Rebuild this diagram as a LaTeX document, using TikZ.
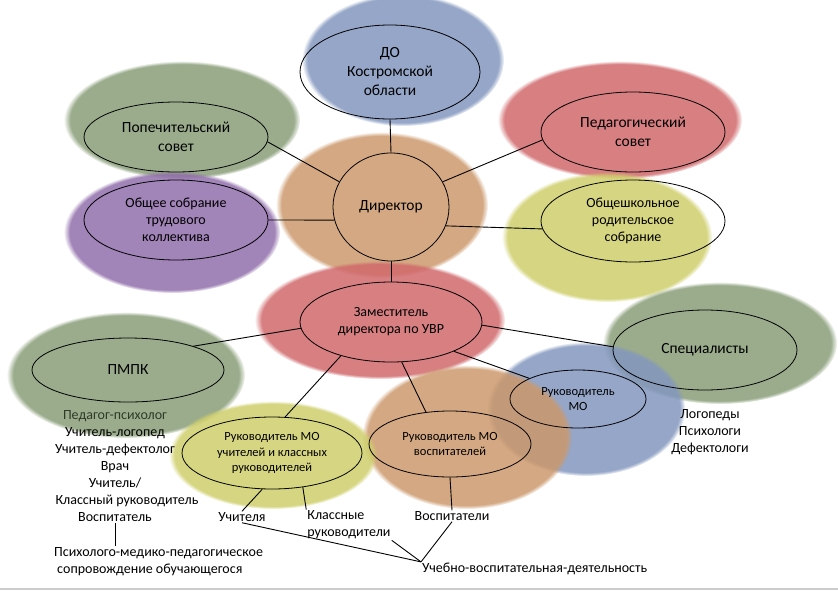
\documentclass[tikz,border=0pt]{standalone}
\usepackage{fontspec}
\setmainfont{Carlito}
\usetikzlibrary{shapes.geometric,fadings}
\pgfdeclareradialshading{softedgeshade}{\pgfpointorigin}{color(0bp)=(pgftransparent!0); color(23.6bp)=(pgftransparent!0); color(25bp)=(pgftransparent!100); color(50bp)=(pgftransparent!100)}
\pgfdeclarefading{softedge}{\pgfuseshading{softedgeshade}}
\definecolor{cblue}{RGB}{131,151,190}
\definecolor{corange}{RGB}{204,153,108}
\definecolor{cred}{RGB}{209,105,108}
\definecolor{cgreen}{RGB}{137,158,120}
\definecolor{cpurple}{RGB}{145,110,171}
\definecolor{cyellow}{RGB}{207,207,108}
\definecolor{cdkgreen}{RGB}{45,58,40}
\newcommand{\fbig}{\fontsize{15.5}{19}\selectfont}
\newcommand{\fmid}{\fontsize{14}{17}\selectfont}
\newcommand{\fsml}{\fontsize{12.5}{15.5}\selectfont}
\begin{document}
\begin{tikzpicture}[x=1pt,y=-1pt,
  blob/.style={fill=#1, fill opacity=0.85, draw=none, path fading=softedge},
  oval/.style={draw=black, line width=0.8pt, ellipse, inner sep=0pt, align=center},
  lbl/.style={inner sep=1pt, align=center, font=\fmid},
  conn/.style={draw=black, line width=0.9pt}]
\useasboundingbox (0,0) rectangle (838,592);
% coloured blobs
\fill[blob=cblue] (403,60) ellipse [x radius=101, y radius=66];
\fill[blob=cgreen] (182,120) ellipse [x radius=118, y radius=59];
\fill[blob=cred] (620,120) ellipse [x radius=122, y radius=59];
\fill[blob=corange] (382,205) ellipse [x radius=106, y radius=73];
\fill[blob=cpurple] (172,232) ellipse [x radius=108, y radius=61];
\fill[blob=cyellow] (607,237) ellipse [x radius=105, y radius=65];
\fill[blob=cred] (380,320) ellipse [x radius=125, y radius=59];
\fill[blob=cgreen] (126,375) ellipse [x radius=119, y radius=63];
\fill[blob=cgreen] (720,343) ellipse [x radius=117, y radius=61];
\fill[blob=cblue] (586,409) ellipse [x radius=99, y radius=67];
\fill[blob=corange] (467,437) ellipse [x radius=105, y radius=72];
\fill[blob=cyellow] (273,455) ellipse [x radius=104, y radius=54];
% list text under the PMPK blob
\node[lbl] (list) at (115,466) {\textcolor{cdkgreen}{Педагог-психолог}\\Учитель-логопед\\Учитель-дефектолог\\Врач\\Учитель/\\\hspace*{24pt}Классный руководитель\\Воспитатель};
% outline ellipses
\node[oval, minimum width=180, minimum height=94, font=\fbig] (do) at (390,72) {ДО\\Костромской\\области};
\node[oval, minimum width=116, minimum height=108, font=\fbig] (dir) at (391,207) {Директор};
\node[oval, minimum width=182, minimum height=80, font=\fmid] (zam) at (391,322) {Заместитель\\директора по УВР};
\node[oval, minimum width=184, minimum height=70, font=\fbig] (pop) at (176,137) {Попечительский\\совет};
\node[oval, minimum width=184, minimum height=80, font=\fmid] (obs) at (176,220) {Общее собрание\\трудового\\коллектива};
\node[oval, minimum width=184, minimum height=80, font=\fbig] (ped) at (633,132) {Педагогический\\совет};
\node[oval, minimum width=184, minimum height=82, font=\fmid] (osh) at (633,221) {Общешкольное\\родительское\\собрание};
\node[oval, minimum width=184, minimum height=80, font=\fbig] (spec) at (705,350) {Специалисты};
\node[oval, minimum width=192, minimum height=64, font=\fbig] (pmpk) at (128,370) {ПМПК};
\node[oval, minimum width=136, minimum height=58, font=\fsml] (mo) at (578,399) {Руководитель\\МО};
\node[oval, minimum width=162, minimum height=66, font=\fsml] (vosp) at (450,444) {Руководитель МО\\воспитателей};
\node[oval, minimum width=180, minimum height=72, font=\fsml] (mou) at (272,453) {Руководитель МО\\учителей и классных\\руководителей};
% plain labels
\node[lbl] (uchit) at (242,517) {Учителя};
\node[lbl, align=left] (kr) at (349,525) {Классные\\руководители};
\node[lbl] (vospt) at (452,516) {Воспитатели};
\node[lbl, anchor=west] (ucheb) at (421,569) {Учебно-воспитательная-деятельность};
\node[lbl, align=left, anchor=north west] (psy) at (53,546) {Психолого-медико-педагогическое\\\hspace*{3pt}сопровождение обучающегося};
\node[lbl] (slist) at (710,432) {Логопеды\\Психологи\\Дефектологи};
% connectors
\draw[conn] (do.south) -- (dir.north);
\draw[conn] (pop.-3) -- (dir.154);
\draw[conn] (obs.0) -- (dir.193);
\draw[conn] (ped.185) -- (dir.26);
\draw[conn] (osh.185) -- (dir.-19);
\draw[conn] (dir.south) -- (zam.north);
\draw[conn] (pmpk.20) -- (zam.184);
\draw[conn] (spec.178) -- (zam.-2.5);
\draw[conn] (mo.157) -- (zam.-25);
\draw[conn] (vosp.127) -- (zam.-75);
\draw[conn] (mou.70) -- (zam.214);
\draw[conn] (mou.-105) -- (uchit.north);
\draw[conn] (mou.-48) -- (kr.north west);
\draw[conn] (vosp.south) -- (vospt.north);
\draw[conn] (uchit.south) -- (ucheb.north west);
\draw[conn] (kr.south east) -- (ucheb.north west);
\draw[conn] (vospt.south) -- (ucheb.north west);
\draw[conn] (list.south) -- (list.south |- psy.north);
\draw[gray!40, line width=2pt] (0,589) -- (838,589);
\end{tikzpicture}
\end{document}
